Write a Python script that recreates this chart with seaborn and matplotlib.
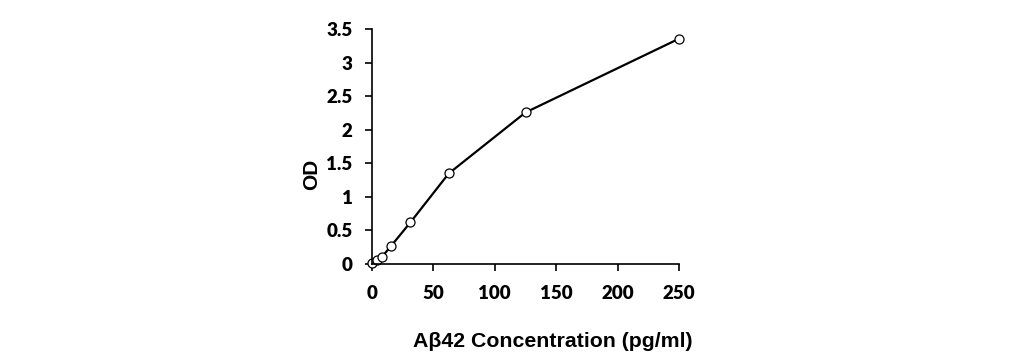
import pandas as pd
import matplotlib.pyplot as plt
import seaborn as sns

# Standard curve values
concentration = [0, 3.9, 7.8, 15.6, 31.25, 62.5, 125, 250]
od = [0.01, 0.06, 0.10, 0.27, 0.62, 1.35, 2.26, 3.36]
x_ticks = [0, 50, 100, 150, 200, 250]
y_ticks = [0, 0.5, 1, 1.5, 2, 2.5, 3, 3.5]
y_tick_labels = ['0', '0.5', '1', '1.5', '2', '2.5', '3', '3.5']

df = pd.DataFrame({'conc': concentration, 'od': od})

sns.set_style('ticks')
plt.rcParams['font.family'] = ['Liberation Sans', 'DejaVu Sans']
plt.rcParams['font.weight'] = 'bold'
plt.rcParams['text.color'] = 'black'

fig = plt.figure(figsize=(10.31, 3.61), dpi=100)
ax = fig.add_axes([0.3608, 0.2687, 0.2978, 0.6501])

sns.lineplot(data=df, x='conc', y='od', ax=ax, color='black', linewidth=1.6,
             marker='o', markersize=6.5, markerfacecolor='white',
             markeredgecolor='black', markeredgewidth=0.9, clip_on=False)

ax.set_xlim(0, 250)
ax.set_ylim(0, 3.5)
ax.set_xticks(x_ticks)
ax.set_xticklabels([str(t) for t in x_ticks])
ax.set_yticks(y_ticks)
ax.set_yticklabels(y_tick_labels)
ax.tick_params(width=1.2, length=5, colors='black')
ax.tick_params(axis='x', pad=10)
ax.tick_params(axis='y', pad=9)
for label in ax.get_xticklabels() + ax.get_yticklabels():
    label.set_fontfamily(['Lato', 'DejaVu Sans'])
    label.set_fontweight('heavy')
    label.set_fontsize(13.5)

ax.set_xlabel('A\u03b242 Concentration (pg/ml)', fontsize=15.3, fontweight='bold', color='black')
ax.set_ylabel('OD', fontsize=15, fontweight='bold', color='black')
ax.xaxis.set_label_coords(0.59, -0.29)
ax.yaxis.set_label_coords(-0.165, 0.383)

sns.despine(ax=ax)
for side in ['left', 'bottom']:
    ax.spines[side].set_linewidth(1.2)
    ax.spines[side].set_color('black')

fig.savefig('out.png', dpi=100)
plt.close()
